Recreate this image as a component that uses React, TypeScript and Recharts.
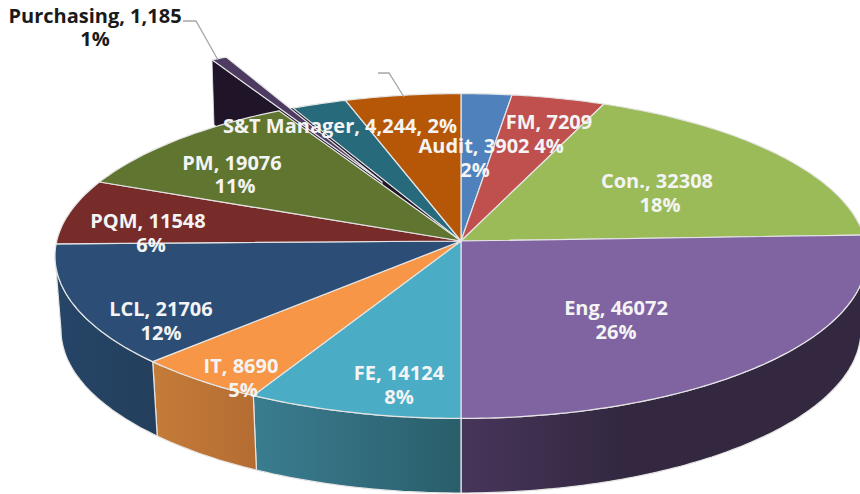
import { PieChart, Pie } from 'recharts'

const categories = ['Audit', 'FM', 'Con.', 'Eng', 'FE', 'IT', 'LCL', 'PQM', 'PM', 'Purchasing', 'S&T Manager', '']
const values = [3902, 7209, 32308, 46072, 14124, 8690, 21706, 11548, 19076, 1185, 4244, 8918]
const topColors = ['#4f81bd', '#c0504d', '#9bbb59', '#8064a2', '#4bacc6', '#f79646', '#2c4d75', '#772c2a', '#5f7530', '#4d3b62', '#276a7c', '#b65708']
const wallLeft = ['#2f4d71', '#733030', '#5d7035', '#47355a', '#3a7d90', '#c47c3a', '#264567', '#471a19', '#39461d', '#1f1428', '#173f4a', '#6d3405']
const wallRight = ['#2f4d71', '#733030', '#5d7035', '#332840', '#2a5e6b', '#b56c32', '#233f5c', '#471a19', '#39461d', '#1f1428', '#173f4a', '#6d3405']

const chartData = categories.map((name, i) => ({ name, value: values[i] }))

const CX = 461
const CY = 241
const OUTER = 406
const TILT = 0.4 // ellipse height / width
const HUB_DROP = 15 // ellipse centre sits below the hub
const PERSPECTIVE = 0.92
const WALL_DROP = 89
const WALL_RX = 400
const WALL_RY = 163
const EDGE = '#e4e4e4'

const EXPLODED = 'Purchasing'
const TIP_SHIFT = [-79, -59]
const ARC_SHIFT = [-67, -51]
const EXPLODED_WALL = [2, 65]

// label lines centred on a point, one row per entry (name row, percent row)
const labelSpots: Record<string, number[][]> = {
  Audit: [[474, 145], [475, 169]],
  FM: [[549, 121], [549, 145]],
  'Con.': [[657, 180], [660, 204]],
  Eng: [[616, 307], [616, 331]],
  FE: [[399, 372], [399, 396]],
  IT: [[241, 365], [243, 389]],
  LCL: [[161, 308], [161, 332]],
  PQM: [[148, 220], [151, 244]],
  PM: [[232, 162], [235, 185]],
  Purchasing: [[95, 15], [95, 38]],
  'S&T Manager': [[340, 125]],
}

const leaders: Record<string, number[][]> = {
  Purchasing: [[183, 21], [196, 21], [218, 60]],
  '': [[378, 73], [389, 73], [404, 97]],
}

// true pie angle (clockwise from top) to the ellipse parameter seen in perspective
const toPhi = (theta: number) => {
  const clamped = Math.min(360, Math.max(0, theta))
  if (clamped >= 360) return 2 * Math.PI
  const t = (clamped / 2) * (Math.PI / 180)
  return 2 * Math.atan2(PERSPECTIVE * Math.sin(t), Math.cos(t))
}

const topPoint = (phi: number) => [
  CX + OUTER * Math.sin(phi),
  CY + HUB_DROP - OUTER * TILT * Math.cos(phi),
]

const wallPoint = (phi: number) => [
  CX + WALL_RX * Math.sin(phi),
  CY + WALL_DROP - WALL_RY * Math.cos(phi),
]

const arcPoints = (from: number, to: number, at: (phi: number) => number[]) => {
  const pts: number[][] = []
  const steps = Math.max(2, Math.ceil(Math.abs(to - from) * 60))
  for (let i = 0; i <= steps; i++) pts.push(at(from + ((to - from) * i) / steps))
  return pts
}

const toPath = (pts: number[][]) => 'M' + pts.map((p) => p[0].toFixed(1) + ' ' + p[1].toFixed(1)).join('L') + 'Z'

const phiRange = (props: any) => [toPhi(90 - props.startAngle), toPhi(90 - props.endAngle)]

function TopSlice(props: any) {
  const i = categories.indexOf(props.name)
  const [a, b] = phiRange(props)
  const exploded = props.name === EXPLODED
  const tip = exploded ? [CX + TIP_SHIFT[0], CY + TIP_SHIFT[1]] : [CX, CY]
  const arc = arcPoints(a, b, (phi) => {
    const p = topPoint(phi)
    return exploded ? [p[0] + ARC_SHIFT[0], p[1] + ARC_SHIFT[1]] : p
  })
  return <path d={toPath([tip, ...arc])} fill={topColors[i]} stroke={EDGE} strokeWidth={1.2} strokeLinejoin="round" />
}

function WallSlice(props: any) {
  const i = categories.indexOf(props.name)
  const [a, b] = phiRange(props)
  if (props.name === EXPLODED) {
    const arc = arcPoints(a, b, topPoint)
    const outer = [arc[0][0] + ARC_SHIFT[0], arc[0][1] + ARC_SHIFT[1]]
    const tip = [CX + TIP_SHIFT[0], CY + TIP_SHIFT[1]]
    const face = [
      outer,
      tip,
      [tip[0] + EXPLODED_WALL[0], tip[1] + EXPLODED_WALL[1]],
      [outer[0] + EXPLODED_WALL[0], outer[1] + EXPLODED_WALL[1]],
    ]
    return (
      <g>
        <path d={toPath([[CX, CY], ...arc])} fill={wallRight[i]} />
        <path d={toPath(face)} fill={wallRight[i]} stroke={EDGE} strokeWidth={0.8} strokeLinejoin="round" />
      </g>
    )
  }
  const from = Math.max(a, Math.PI / 2)
  const to = Math.min(b, (3 * Math.PI) / 2)
  if (to <= from) return null
  const top = arcPoints(from, to, topPoint)
  const bottom = arcPoints(to, from, wallPoint)
  const id = 'wall-' + i
  // the big Eng wall reaches its dark tone early, the others fade over their full width
  const fadeEnd = props.name === 'Eng' ? '40%' : '100%'
  return (
    <g>
      <defs>
        <linearGradient id={id} x1="0" y1="0" x2="1" y2="0">
          <stop offset="0%" stopColor={wallLeft[i]} />
          <stop offset={fadeEnd} stopColor={wallRight[i]} />
        </linearGradient>
      </defs>
      <path d={toPath([...top, ...bottom])} fill={`url(#${id})`} stroke={EDGE} strokeWidth={1.2} strokeLinejoin="round" />
    </g>
  )
}

function SliceLabel(props: any) {
  const { name, value, percent } = props
  const pct = Math.round(percent * 100) + '%'
  const spots = labelSpots[name]
  const line = leaders[name]
  let rows: string[] = []
  if (name === EXPLODED) rows = [name + ', ' + value.toLocaleString('en-US'), pct]
  else if (name === 'S&T Manager') rows = [name + ', ' + value.toLocaleString('en-US') + ', ' + pct]
  else if (name) rows = [name + ', ' + value, pct]
  return (
    <g>
      {line && <polyline points={line.map((p) => p.join(',')).join(' ')} fill="none" stroke="#a6a6a6" strokeWidth={1.3} />}
      {rows.map((row, r) => (
        <text
          key={r}
          x={spots[r][0]}
          y={spots[r][1]}
          textAnchor="middle"
          dominantBaseline="central"
          fontFamily="'Open Sans', sans-serif"
          fontWeight={700}
          fontSize={20}
          fill={name === EXPLODED ? '#1a1a1a' : '#f4f4f4'}
        >
          {row}
        </text>
      ))}
    </g>
  )
}

export default function App() {
  return (
    <div style={{ position: 'absolute', left: 0, top: 0, width: 860, height: 494, overflow: 'hidden', background: '#fff' }}>
      <PieChart width={860} height={494} margin={{ top: 0, right: 0, bottom: 0, left: 0 }}>
        <Pie
          data={chartData}
          dataKey="value"
          nameKey="name"
          cx={CX}
          cy={CY}
          outerRadius={OUTER}
          startAngle={90}
          endAngle={-270}
          shape={WallSlice}
          inactiveShape={WallSlice}
          isAnimationActive={false}
        />
        <Pie
          data={chartData}
          dataKey="value"
          nameKey="name"
          cx={CX}
          cy={CY}
          outerRadius={OUTER}
          startAngle={90}
          endAngle={-270}
          shape={TopSlice}
          inactiveShape={TopSlice}
          label={SliceLabel}
          labelLine={false}
          isAnimationActive={false}
        />
      </PieChart>
    </div>
  )
}
